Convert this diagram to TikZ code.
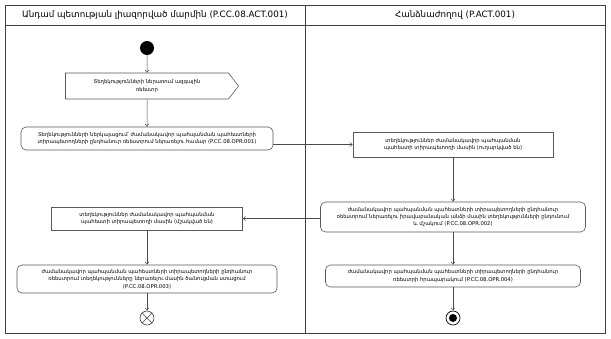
\documentclass[tikz,border=0pt]{standalone}
\usepackage{fontspec}
\setmainfont{DejaVu Sans}
\usetikzlibrary{shapes.symbols,arrows.meta}
\begin{document}
\begin{tikzpicture}[x=1bp,y=-1bp,
    lane/.style={draw=black!75, line width=0.6pt},
    action/.style={draw=black!65, line width=0.6pt, rounded corners=5bp, align=center,
        font=\fontsize{5.3}{7.4}\selectfont, inner sep=1pt},
    object/.style={draw=black!65, line width=0.6pt, align=center,
        font=\fontsize{5.3}{7.4}\selectfont, inner sep=1pt},
    flow/.style={draw=black!70, line width=0.5pt, -{Straight Barb[length=2.5pt,width=4pt]}}]
    \useasboundingbox (0,0) rectangle (611,338);
    % Dorozhki i zagolovki
    \draw[lane] (5,5) rectangle (605,333);
    \draw[lane] (5,25) -- (605,25);
    \draw[lane] (305,5) -- (305,333);
    \node[font=\fontsize{8.8}{10}\selectfont] (hdrL) at (155,15)
        {Անդամ պետության լիազորված մարմին (P.CC.08.ACT.001)};
    \node[font=\fontsize{8.8}{10}\selectfont] (hdrR) at (455,15)
        {Հանձնաժողով (P.ACT.001)};
    % Nachalo
    \node[circle, fill=black, minimum size=14bp, inner sep=0pt] (start) at (147,48) {};
    % Signal
    \node[draw=black!65, line width=0.6pt, signal, signal to=east, signal pointer angle=105,
        minimum width=173bp, minimum height=26bp, align=center,
        font=\fontsize{5.3}{7.4}\selectfont, inner sep=1pt] (sig) at (147,86)
        {Տեղեկությունների ներառում ազգային\\ռեեստր};
    % Levaja dorozhka
    \node[action, minimum width=252bp, minimum height=23bp] (opr1) at (147,138.5)
        {Տեղեկությունների ներկայացում՝ ժամանակավոր պահպանման պահեստների\\
         տիրապետողների ընդհանուր ռեեստրում ներառելու համար (P.CC.08.OPR.001)};
    \node[object, minimum width=191bp, minimum height=23bp] (objB) at (147,218.5)
        {տեղեկություններ ժամանակավոր պահպանման\\
         պահեստի տիրապետողի մասին (մշակված են)};
    \node[action, minimum width=260bp, minimum height=28bp] (opr3) at (147,279)
        {ժամանակավոր պահպանման պահեստների տիրապետողների ընդհանուր\\
         ռեեստրում տեղեկությունները ներառելու մասին ծանուցման ստացում\\
         (P.CC.08.OPR.003)};
    % Konec potoka
    \node[circle, draw=black!75, line width=0.6pt, minimum size=14bp, inner sep=0pt] (flowEnd) at (147,318) {};
    \draw[black!75, line width=0.6pt] (flowEnd.north west) -- (flowEnd.south east)
        (flowEnd.north east) -- (flowEnd.south west);
    % Pravaja dorozhka
    \node[object, minimum width=200bp, minimum height=25bp] (objA) at (453,144.5)
        {տեղեկություններ ժամանակավոր պահպանման\\
         պահեստի տիրապետողի մասին (ուղարկված են)};
    \node[action, minimum width=265bp, minimum height=30bp] (opr2) at (453,217)
        {ժամանակավոր պահպանման պահեստների տիրապետողների ընդհանուր\\
         ռեեստրում ներառելու իրավաբանական անձի մասին տեղեկությունների ընդունում\\
         և մշակում (P.CC.08.OPR.002)};
    \node[action, minimum width=255bp, minimum height=22bp] (opr4) at (453,276)
        {ժամանակավոր պահպանման պահեստների տիրապետողների ընդհանուր\\
         ռեեստրի հրապարակում (P.CC.08.OPR.004)};
    % Konec
    \node[circle, draw=black, line width=0.7pt, minimum size=14bp, inner sep=0pt] (actEnd) at (453,318) {};
    \node[circle, fill=black, minimum size=8bp, inner sep=0pt] (actEndDot) at (actEnd) {};
    % Perehody
    \draw[flow] (start) -- (sig);
    \draw[flow] (sig) -- (opr1);
    \draw[flow] (opr1.east |- objA.west) -- (objA.west);
    \draw[flow] (objA) -- (opr2);
    \draw[flow] (opr2.west |- objB.east) -- (objB.east);
    \draw[flow] (objB) -- (opr3);
    \draw[flow] (opr3) -- (flowEnd);
    \draw[flow] (opr2) -- (opr4);
    \draw[flow] (opr4) -- (actEnd);
\end{tikzpicture}
\end{document}
